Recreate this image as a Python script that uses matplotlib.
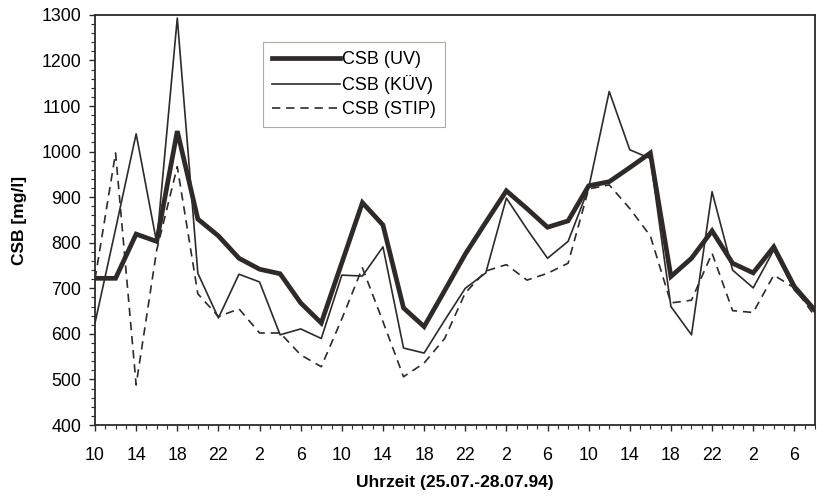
import numpy as np
import matplotlib.pyplot as plt
from matplotlib.ticker import MultipleLocator

# Stunden ab 25.07. 10:00, Messung alle 2 h
hours = np.arange(0, 72, 2)

csb_uv = [722, 722, 819, 803, 1045, 852, 815, 766, 742, 732,
          668, 624, 756, 888, 839, 657, 616, 695, 775, 845,
          914, 875, 834, 848, 925, 934, 965, 997, 726, 766,
          826, 755, 734, 791, 704, 652]
csb_kuev = [624, 830, 1039, 800, 1293, 733, 635, 731, 714, 598,
            611, 590, 729, 727, 791, 569, 558, 630, 700, 734,
            898, 830, 766, 803, 920, 1132, 1004, 985, 660, 598,
            912, 740, 701, 784, 696, 648]
csb_stip = [720, 997, 488, 784, 967, 688, 638, 655, 602, 602,
            554, 528, 633, 745, 627, 506, 536, 590, 690, 738,
            752, 718, 733, 755, 918, 927, 875, 815, 668, 674,
            777, 651, 647, 729, 701, 639]

tick_pos = np.arange(0, 72, 4)
tick_labels = ['10', '14', '18', '22', '2', '6', '10', '14', '18',
               '22', '2', '6', '10', '14', '18', '22', '2', '6']


def main():
    plt.rcParams['font.family'] = ['Liberation Sans', 'DejaVu Sans']
    fig = plt.figure(figsize=(8.19, 4.96), dpi=100)
    ax = fig.add_axes([0.116, 0.143, 0.879, 0.827])

    col = '#2e2a28'
    ax.plot(hours, csb_uv, color=col, lw=3.4, solid_joinstyle='miter', label='CSB (UV)')
    ax.plot(hours, csb_kuev, color=col, lw=1.2, label='CSB (KÜV)')
    ax.plot(hours, csb_stip, color=col, lw=1.2, dashes=(5, 3.5), label='CSB (STIP)')

    ax.set_xlim(0, 70)
    ax.set_ylim(400, 1300)
    ax.set_xticks(tick_pos)
    ax.set_xticklabels(tick_labels)
    ax.xaxis.set_minor_locator(MultipleLocator(1))
    ax.yaxis.set_major_locator(MultipleLocator(100))
    ax.yaxis.set_minor_locator(MultipleLocator(20))
    ax.tick_params(which='both', direction='out', color=col, labelsize=12.8)
    ax.tick_params(which='major', length=4, width=1)
    ax.tick_params(which='minor', length=3, width=0.8)
    ax.tick_params(axis='x', pad=12)
    ax.tick_params(axis='y', pad=6)
    for s in ax.spines.values():
        s.set_color(col)
        s.set_linewidth(1.3)

    ax.set_xlabel('Uhrzeit (25.07.-28.07.94)', fontsize=12.5, fontweight='bold', labelpad=8)
    ax.set_ylabel('CSB [mg/l]', fontsize=12.5, fontweight='bold', labelpad=10)

    leg = ax.legend(loc='upper left', bbox_to_anchor=(0.233, 0.934), borderaxespad=0,
                    fontsize=13, handlelength=3.8, handletextpad=0.1,
                    labelspacing=0.4, fancybox=False, framealpha=1,
                    borderpad=0.5)
    leg.get_frame().set_edgecolor('#b0aaa0')
    leg.get_frame().set_linewidth(0.8)

    fig.savefig('out.png', dpi=100)


if __name__ == '__main__':
    main()
